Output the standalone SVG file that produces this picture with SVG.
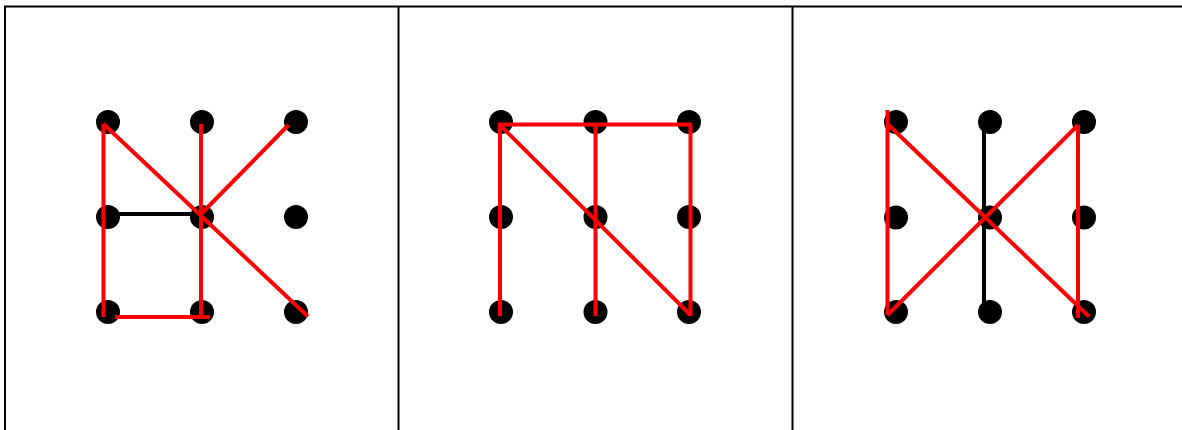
<svg xmlns="http://www.w3.org/2000/svg" width="1182" height="430" viewBox="0 0 1182 430">
<style>
.frame{stroke:#000;stroke-width:2;fill:none}
.dot{fill:#000}
.blk{stroke:#000;stroke-width:4;fill:none}
.red{stroke:#ff0000;stroke-width:4;fill:none}
</style>
<rect width="1182" height="430" fill="#fff"/>
<g id="frame">
<line class="frame" x1="4" y1="6.5" x2="1182" y2="6.5"/>
<line class="frame" x1="5" y1="6" x2="5" y2="430"/>
<line class="frame" x1="398.5" y1="6" x2="398.5" y2="430"/>
<line class="frame" x1="792.5" y1="6" x2="792.5" y2="430"/>
</g>
<g id="panel1-dots">
<circle class="dot" cx="108" cy="122" r="12"/>
<circle class="dot" cx="202" cy="122" r="12"/>
<circle class="dot" cx="296" cy="122" r="12"/>
<circle class="dot" cx="108" cy="217" r="12"/>
<circle class="dot" cx="202" cy="217" r="12"/>
<circle class="dot" cx="296" cy="217" r="12"/>
<circle class="dot" cx="108" cy="312" r="12"/>
<circle class="dot" cx="202" cy="312" r="12"/>
<circle class="dot" cx="296" cy="312" r="12"/>
</g>
<g id="panel2-dots">
<circle class="dot" cx="501" cy="122" r="12"/>
<circle class="dot" cx="595.5" cy="122" r="12"/>
<circle class="dot" cx="689" cy="122" r="12"/>
<circle class="dot" cx="501" cy="217" r="12"/>
<circle class="dot" cx="595.5" cy="217" r="12"/>
<circle class="dot" cx="689" cy="217" r="12"/>
<circle class="dot" cx="501" cy="312" r="12"/>
<circle class="dot" cx="595.5" cy="312" r="12"/>
<circle class="dot" cx="689" cy="312" r="12"/>
</g>
<g id="panel3-dots">
<circle class="dot" cx="896" cy="122" r="12"/>
<circle class="dot" cx="990" cy="122" r="12"/>
<circle class="dot" cx="1084" cy="122" r="12"/>
<circle class="dot" cx="896" cy="217.5" r="12"/>
<circle class="dot" cx="990" cy="217.5" r="12"/>
<circle class="dot" cx="1084" cy="217.5" r="12"/>
<circle class="dot" cx="896" cy="312" r="12"/>
<circle class="dot" cx="990" cy="312" r="12"/>
<circle class="dot" cx="1084" cy="312" r="12"/>
</g>
<g id="connectors">
<line class="blk" x1="108" y1="214" x2="201" y2="214"/>
<line class="red" x1="103.5" y1="124" x2="103.5" y2="317"/>
<line class="red" x1="103.5" y1="124" x2="308" y2="316.5"/>
<line class="red" x1="201" y1="124" x2="201" y2="317"/>
<line class="red" x1="201" y1="214" x2="288.5" y2="125"/>
<line class="red" x1="115" y1="317" x2="210" y2="317"/>

<line class="red" x1="498" y1="124.5" x2="692" y2="124.5"/>
<line class="red" x1="500" y1="124.5" x2="500" y2="316"/>
<line class="red" x1="595.5" y1="124.5" x2="595.5" y2="316"/>
<line class="red" x1="690.5" y1="124.5" x2="690.5" y2="316"/>
<line class="red" x1="500" y1="125" x2="690.5" y2="315"/>

<line class="blk" x1="984" y1="130" x2="984" y2="303"/>
<line class="red" x1="887.5" y1="110" x2="887.5" y2="315"/>
<line class="red" x1="887.5" y1="124" x2="1089" y2="316.5"/>
<line class="red" x1="887.5" y1="315" x2="1078" y2="125"/>
<line class="red" x1="1078" y1="125" x2="1078" y2="318"/>
</g>
</svg>
